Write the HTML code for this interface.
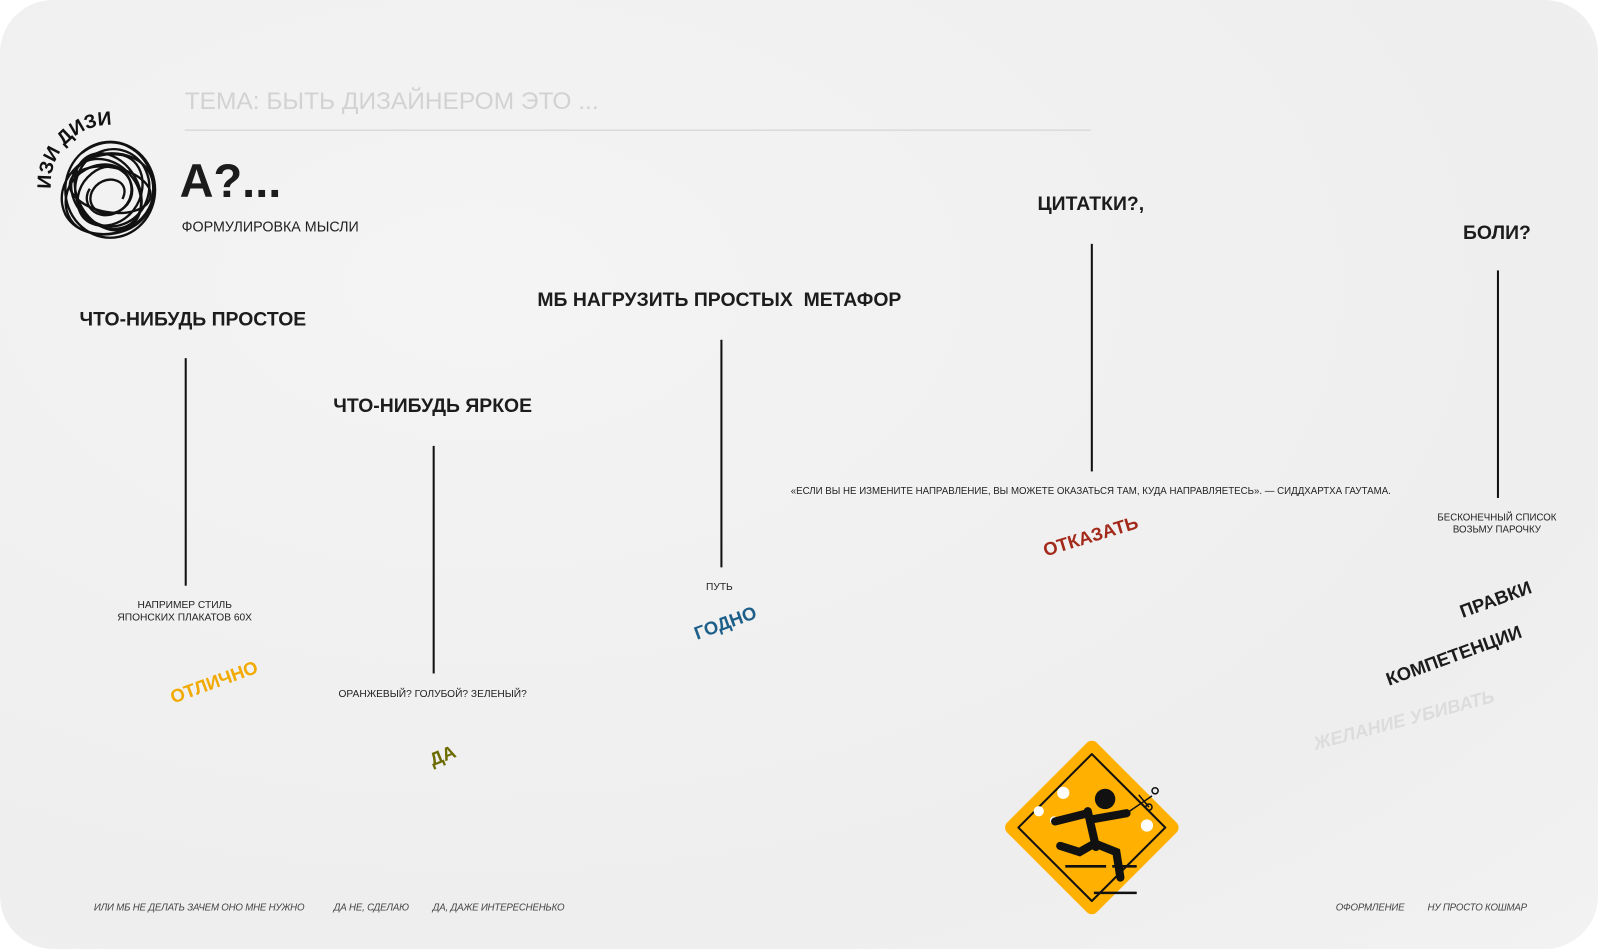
<!DOCTYPE html>
<html><head><meta charset="utf-8"><style>
*{margin:0;padding:0;box-sizing:border-box}
body{width:1600px;height:948px;background:#fff;position:relative;overflow:hidden;font-family:"Liberation Sans","DejaVu Sans",sans-serif;color:#1a1a1a}
#w{position:absolute;left:0;top:0;width:1568px;height:929px;transform:scale(1.0204);transform-origin:0 0}
.card{position:absolute;left:0;top:0;width:1566px;height:930px;border-radius:52px;background:radial-gradient(ellipse at 30% 30%,#f4f4f4,#eeeeee 70%,#f2f2f2)}
.t{position:absolute;white-space:nowrap;transform:translate(-50%,-50%)}
.h{font-weight:bold;font-size:19px;color:#1c1c1c}
.s{font-size:10px;color:#222;text-align:center;line-height:12px}
.r{font-weight:bold;font-size:18px}
.v{position:absolute;width:1.5px;background:#111}
.b{position:absolute;font-size:9.5px;font-style:italic;color:#444;white-space:nowrap;transform:translateY(-50%);letter-spacing:-0.2px}
</style></head><body><div id="w">
<div class="card"></div>
<div style="position:absolute;left:181px;top:86px;font-size:24px;color:#d2d2d2;font-weight:300;white-space:nowrap">ТЕМА: БЫТЬ ДИЗАЙНЕРОМ ЭТО ...</div>
<div style="position:absolute;left:181px;top:127px;width:888px;height:1px;background:#cfcfcf"></div>
<div style="position:absolute;left:176px;top:150px;font-size:46px;font-weight:bold;color:#1c1c1c">А?...</div>
<div style="position:absolute;left:178px;top:214px;font-size:14px;color:#222">ФОРМУЛИРОВКА МЫСЛИ</div>
<svg style="position:absolute;left:20px;top:100px" width="150" height="150" viewBox="0 0 150 150">
<defs><path id="arc" d="M30,85 A58,58 0 0 1 105,25"/></defs>
<text font-family="Liberation Sans" font-weight="bold" font-size="19" fill="#111"><textPath href="#arc">ИЗИ ДИЗИ</textPath></text>
<g fill="none" stroke="#111" stroke-width="2.3">
<path d="M60,50 C100,20 140,60 128,100 C118,135 60,140 44,110 C30,80 60,45 100,52 C130,60 125,110 90,120 C55,128 45,90 70,70 C95,50 120,80 105,100 C90,118 62,108 70,88 C80,68 110,75 100,95"/>
<path d="M50,70 C70,40 125,45 130,80 C135,115 95,140 60,125 C35,112 40,70 75,62 C110,55 120,95 95,108 C75,118 58,100 68,85"/>
<ellipse cx="88" cy="86" rx="44" ry="47"/><ellipse cx="90" cy="84" rx="36" ry="38" transform="rotate(20 90 84)"/>
<ellipse cx="86" cy="88" rx="30" ry="40" transform="rotate(-30 86 88)"/>
<ellipse cx="88" cy="86" rx="40" ry="22" transform="rotate(10 88 86)"/>
<ellipse cx="84" cy="90" rx="38" ry="30" transform="rotate(45 84 90)"/></g></svg>

<div class="t h" style="left:189px;top:314px">ЧТО-НИБУДЬ ПРОСТОЕ</div>
<div class="v" style="left:181px;top:351px;height:223px"></div>
<div class="t s" style="left:181px;top:600px">НАПРИМЕР СТИЛЬ<br>ЯПОНСКИХ ПЛАКАТОВ 60Х</div>
<div class="t r" style="left:210px;top:669px;color:#f2a900;transform:translate(-50%,-50%) rotate(-20deg)">ОТЛИЧНО</div>

<div class="t h" style="left:424px;top:399px">ЧТО-НИБУДЬ ЯРКОЕ</div>
<div class="v" style="left:424px;top:437px;height:223px"></div>
<div class="t s" style="left:424px;top:681px">ОРАНЖЕВЫЙ? ГОЛУБОЙ? ЗЕЛЕНЫЙ?</div>
<div class="t r" style="left:434px;top:741px;color:#6b6b00;transform:translate(-50%,-50%) rotate(-22deg)">ДА</div>

<div class="t h" style="left:705px;top:295px">МБ НАГРУЗИТЬ ПРОСТЫХ&nbsp; МЕТАФОР</div>
<div class="v" style="left:706px;top:333px;height:223px"></div>
<div class="t s" style="left:705px;top:576px">ПУТЬ</div>
<div class="t r" style="left:711px;top:611px;color:#1e5f8a;transform:translate(-50%,-50%) rotate(-20deg)">ГОДНО</div>

<div class="t h" style="left:1069px;top:201px">ЦИТАТКИ?,</div>
<div class="v" style="left:1069px;top:239px;height:223px"></div>
<div class="t s" style="left:1069px;top:482px;font-size:9.5px">«ЕСЛИ ВЫ НЕ ИЗМЕНИТЕ НАПРАВЛЕНИЕ, ВЫ МОЖЕТЕ ОКАЗАТЬСЯ ТАМ, КУДА НАПРАВЛЯЕТЕСЬ». — СИДДХАРТХА ГАУТАМА.</div>
<div class="t r" style="left:1069px;top:526px;color:#a32a1a;transform:translate(-50%,-50%) rotate(-17deg)">ОТКАЗАТЬ</div>

<div class="t h" style="left:1467px;top:229px">БОЛИ?</div>
<div class="v" style="left:1467px;top:265px;height:223px"></div>
<div class="t s" style="left:1467px;top:514px;font-size:9.5px">БЕСКОНЕЧНЫЙ СПИСОК<br>ВОЗЬМУ ПАРОЧКУ</div>
<div class="t r" style="left:1466px;top:588px;color:#1c1c1c;transform:translate(-50%,-50%) rotate(-20deg)">ПРАВКИ</div>
<div class="t r" style="left:1425px;top:643px;color:#1c1c1c;transform:translate(-50%,-50%) rotate(-20deg)">КОМПЕТЕНЦИИ</div>
<div class="t r" style="left:1376px;top:706px;color:#dcdcdc;font-style:italic;transform:translate(-50%,-50%) rotate(-15deg)">ЖЕЛАНИЕ УБИВАТЬ</div>

<svg style="position:absolute;left:984px;top:725px" width="172" height="172" viewBox="0 0 172 172">
<polygon points="86,8 164,86 86,164 8,86" fill="#ffb000" stroke="#ffb000" stroke-width="14" stroke-linejoin="round"/>
<polygon points="86,14 158,86 86,158 14,86" fill="none" stroke="#111" stroke-width="2" stroke-linejoin="round"/>
<g fill="#fff"><circle cx="34" cy="70" r="5"/><circle cx="58" cy="52" r="6"/><circle cx="49" cy="79" r="4"/><circle cx="140" cy="84" r="6"/></g>
<g stroke="#111" stroke-width="8" stroke-linecap="round" fill="none">
<path d="M82,70 L90,105"/><path d="M82,72 L50,80"/><path d="M86,78 L120,72"/>
<path d="M88,102 L74,110 L55,104"/><path d="M90,102 L110,110 L114,135"/></g>
<circle cx="99" cy="58" r="10" fill="#111"/>
<g stroke="#111" stroke-width="1.5" fill="none"><path d="M120,72 L145,55"/><circle cx="148" cy="50" r="3"/><circle cx="142" cy="66" r="3"/><path d="M132,54 L142,66"/></g>
<g stroke="#111" stroke-width="2.5"><path d="M60,124H100"/><path d="M106,124H130"/><path d="M88,150H130"/></g>
</svg>

<div class="b" style="left:92px;top:890px">ИЛИ МБ НЕ ДЕЛАТЬ ЗАЧЕМ ОНО МНЕ НУЖНО</div>
<div class="b" style="left:327px;top:890px">ДА НЕ, СДЕЛАЮ</div>
<div class="b" style="left:424px;top:890px">ДА, ДАЖЕ ИНТЕРЕСНЕНЬКО</div>
<div class="b" style="left:1309px;top:890px">ОФОРМЛЕНИЕ</div>
<div class="b" style="left:1399px;top:890px">НУ ПРОСТО КОШМАР</div>
</div></body></html>
